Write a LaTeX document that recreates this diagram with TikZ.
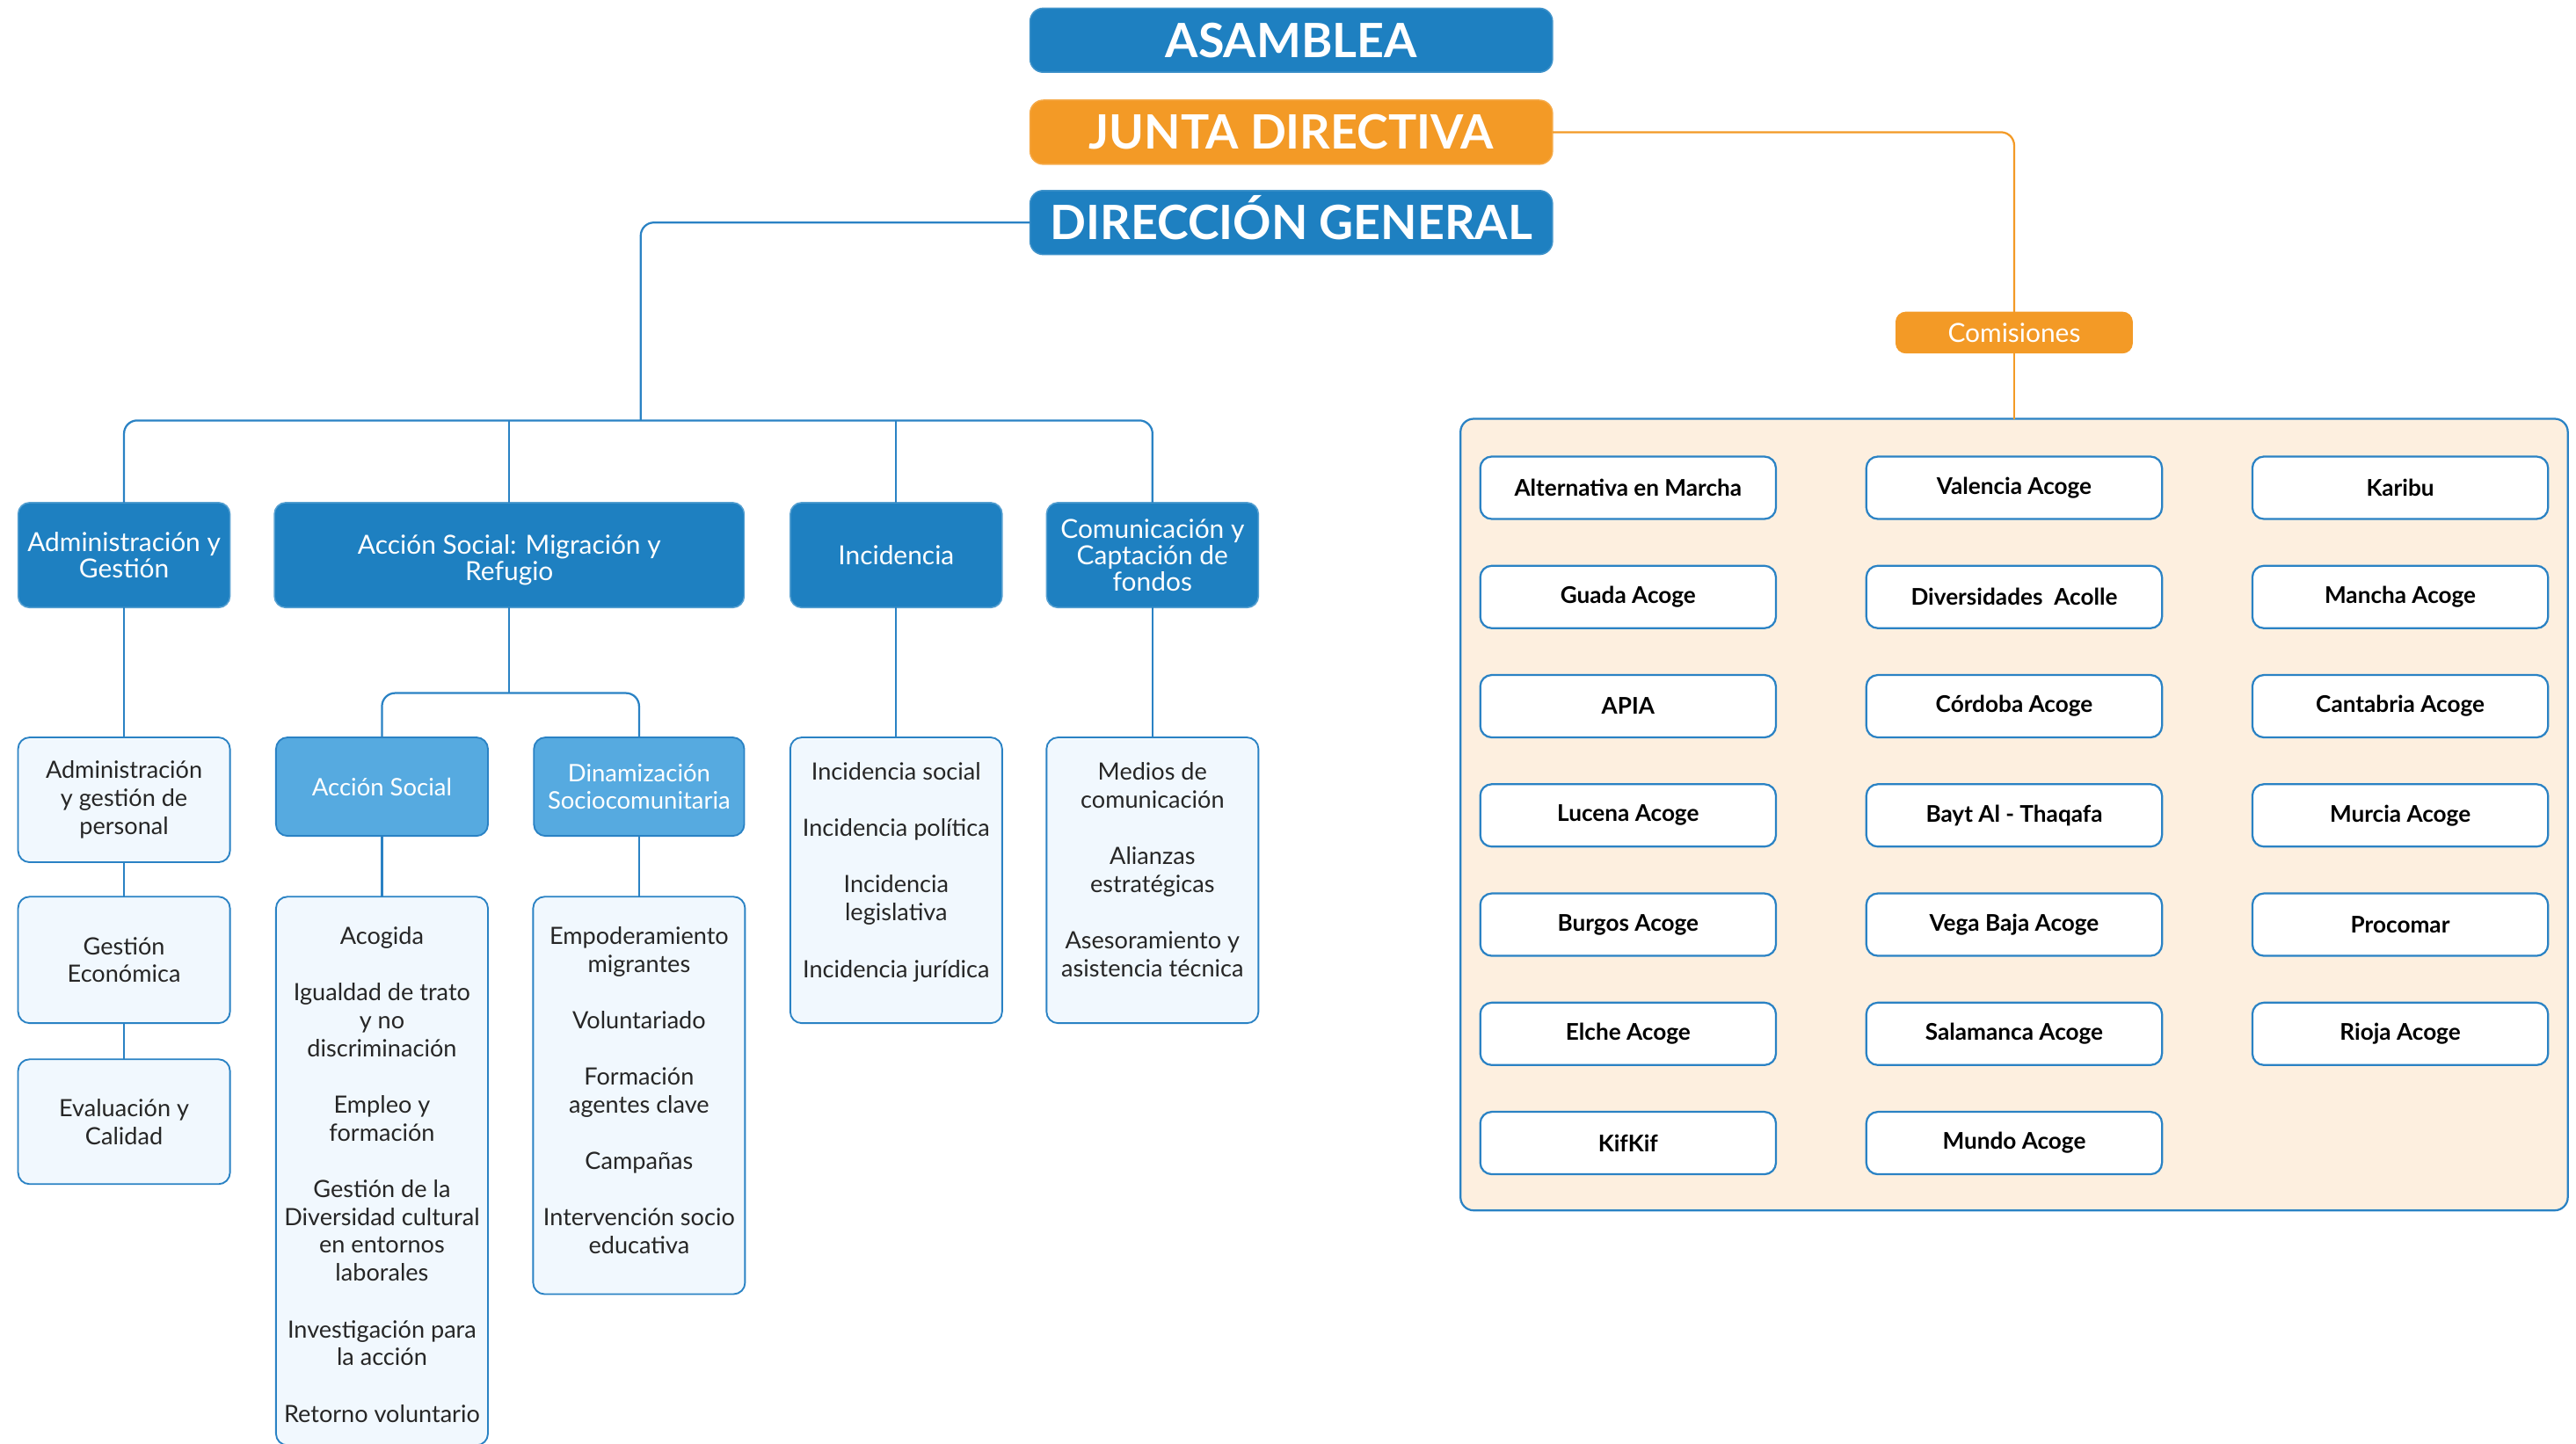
\documentclass[tikz,border=0pt]{standalone}
\usepackage{fontspec}
\setmainfont{Lato}
\definecolor{cblue}{HTML}{1E80C1}
\definecolor{clight}{HTML}{56AAE0}
\definecolor{corange}{HTML}{F39A26}
\definecolor{cpale}{HTML}{F1F8FE}
\definecolor{cpanel}{HTML}{FDEFDF}
\definecolor{cline}{HTML}{2A82C4}
\newcommand\toplist[4]{\parbox[c][#1][t]{#2}{\centering\vspace*{#3}\strut #4\par}}
\begin{document}
\begin{tikzpicture}[x=1pt,y=-1pt,
  topbox/.style={rounded corners=8pt, fill=#1, draw=#1!85!white, line width=0.8pt, text=white,
    font=\fontsize{28.8}{30}\selectfont\bfseries, minimum width=318pt, minimum height=39pt,
    text height=20.7pt, text depth=0pt, inner sep=0pt, outer sep=0pt},
  lvltwo/.style={rounded corners=7pt, fill=cblue, draw=cblue!75!white, line width=0.8pt, text=white,
    font=\fontsize{16}{16}\selectfont, align=center, inner sep=0pt, outer sep=0pt, minimum height=64pt},
  lvlthree/.style={rounded corners=7pt, fill=clight, draw=cline, line width=1pt, text=white,
    font=\fontsize{14.7}{17}\selectfont, align=center, inner sep=0pt, outer sep=0pt, minimum width=129pt, minimum height=60pt},
  listbox/.style={rounded corners=7pt, fill=cpale, draw=cline, line width=1pt, text=black!85,
    font=\fontsize{14.5}{17}\selectfont, align=center, inner sep=0pt, outer sep=0pt, minimum width=129pt},
  member/.style={rounded corners=7pt, fill=white, draw=cline, line width=1.2pt, text=black,
    font=\fontsize{14}{16}\selectfont\bfseries, minimum width=180pt, minimum height=38pt, inner sep=0pt, outer sep=0pt},
  comisbox/.style={rounded corners=6pt, fill=corange, draw=corange, text=white,
    font=\fontsize{16}{16}\selectfont, minimum width=144pt, minimum height=25pt, inner sep=0pt, outer sep=0pt},
  panelbox/.style={rounded corners=8pt, fill=cpanel, draw=cline, line width=1.2pt, minimum width=674pt, minimum height=482pt, inner sep=0pt, outer sep=0pt},
  conn/.style={draw=cline, line width=1.2pt, rounded corners=8pt},
  oconn/.style={draw=corange, line width=1.2pt, rounded corners=8pt}
]
\useasboundingbox (0,0) rectangle (1568,879);

% top
\node[topbox=cblue]   (asam) at (786,24.5)  {ASAMBLEA};
\node[topbox=corange] (jd)   at (786,80.5)  {JUNTA DIRECTIVA};
\node[topbox=cblue]   (dg)   at (786,135.5) {DIRECCIÓN GENERAL};

% comisiones
\node[panelbox] (panel) at (1226,496) {};
\node[comisbox] (comis) at (1226,202.5) {Comisiones};
\draw[oconn] (jd.east) -| (comis.north);
\draw[oconn] (comis.south) -- (panel.north);

\foreach \t [count=\i from 0] in {Alternativa en Marcha, Guada Acoge, APIA, Lucena Acoge, Burgos Acoge, Elche Acoge, KifKif}
  \node[member] (ma\i) at (991,297+66.5*\i) {\t};
\foreach \t [count=\i from 0] in {Valencia Acoge, Diversidades~ Acolle, Córdoba Acoge, Bayt Al - Thaqafa, Vega Baja Acoge, Salamanca Acoge, Mundo Acoge}
  \node[member] (mb\i) at (1226,297+66.5*\i) {\t};
\foreach \t [count=\i from 0] in {Karibu, Mancha Acoge, Cantabria Acoge, Murcia Acoge, Procomar, Rioja Acoge}
  \node[member] (mc\i) at (1461,297+66.5*\i) {\t};

% level 2
\node[lvltwo, minimum width=129pt] (adm) at (75.5,338) {Administración y\\Gestión};
\node[lvltwo, minimum width=286pt] (ac)  at (310,338)  {\rule{0pt}{18pt}Acción Social: Migración y\\Refugio};
\node[lvltwo, minimum width=129pt] (inc) at (545.5,338) {Incidencia};
\node[lvltwo, minimum width=129pt] (com) at (701.5,338) {Comunicación y\\Captación de\\fondos};

\coordinate (bus) at (390,256);
\draw[conn] (dg.west) -| (bus);
\draw[conn] (adm.north) |- (bus) -| (com.north);
\draw[conn] (ac.north) -- (ac.north |- bus);
\draw[conn] (inc.north) -- (inc.north |- bus);

% admin column
\node[listbox, minimum height=76pt] (adm1) at (75.5,487)   {Administración\\y gestión de\\personal};
\node[listbox, minimum height=77pt] (adm2) at (75.5,584.5) {Gestión\\Económica};
\node[listbox, minimum height=76pt] (adm3) at (75.5,683)   {Evaluación y\\Calidad};
\draw[conn] (adm.south) -- (adm1.north);
\draw[conn] (adm1.south) -- (adm2.north);
\draw[conn] (adm2.south) -- (adm3.north);

% accion social
\node[lvlthree] (as) at (232.5,479) {Acción Social};
\node[lvlthree, minimum width=128pt] (dz) at (389,479) {Dinamización\\Sociocomunitaria};
\coordinate (acbus) at (310,422);
\draw[conn] (ac.south) -- (acbus);
\draw[conn] (as.north) |- (acbus) -| (dz.north);

\node[listbox] (aslist) at (232.5,713)
  {\toplist{334pt}{129pt}{17pt}{Acogida\\[17.4pt]Igualdad de trato\\y no\\discriminación\\[17.4pt]Empleo y\\formación\\[17.4pt]Gestión de la\\Diversidad cultural\\en entornos\\laborales\\[17.4pt]Investigación para\\la acción\\[17.4pt]Retorno voluntario}};
\node[listbox] (dzlist) at (389,667)
  {\toplist{242pt}{128pt}{17pt}{Empoderamiento\\migrantes\\[17.4pt]Voluntariado\\[17.4pt]Formación\\agentes clave\\[17.4pt]Campañas\\[17.4pt]Intervención socio\\educativa}};
\draw[conn] (as.south) -- (aslist.north);
\draw[conn] (dz.south) -- (dzlist.north);

% incidencia & comunicacion
\node[listbox] (inclist) at (545.5,536)
  {\toplist{174pt}{129pt}{14pt}{Incidencia social\\[17.4pt]Incidencia política\\[17.4pt]Incidencia\\legislativa\\[17.4pt]Incidencia jurídica}};
\node[listbox] (comlist) at (701.5,536)
  {\toplist{174pt}{129pt}{14pt}{Medios de\\comunicación\\[17.4pt]Alianzas\\estratégicas\\[17.4pt]Asesoramiento y\\asistencia técnica}};
\draw[conn] (inc.south) -- (inclist.north);
\draw[conn] (com.south) -- (comlist.north);
\end{tikzpicture}
\end{document}
